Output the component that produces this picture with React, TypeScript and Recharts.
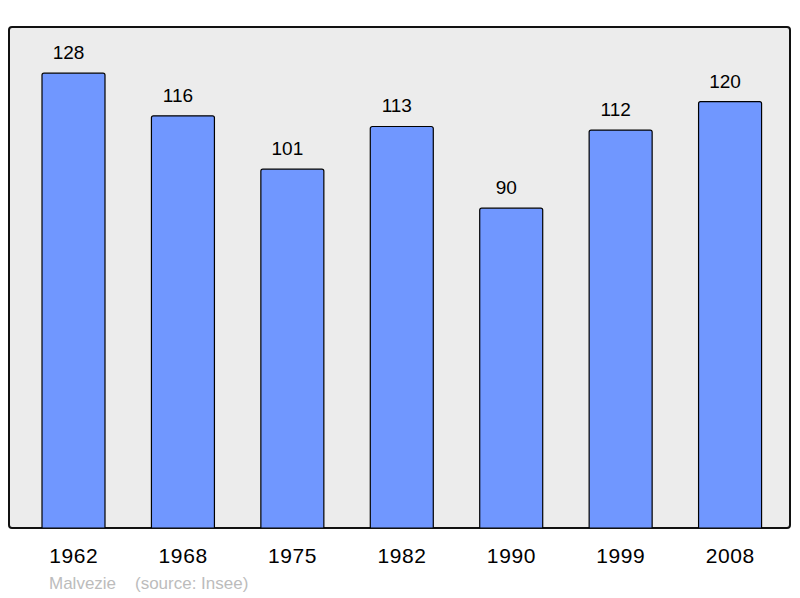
import { BarChart, Bar, XAxis, YAxis, LabelList } from "recharts";

const years = ["1962", "1968", "1975", "1982", "1990", "1999", "2008"];
const population = [128, 116, 101, 113, 90, 112, 120];

const data = years.map((year, i) => ({ year, pop: population[i] }));

const font = "'Liberation Sans', Arial, sans-serif";

export default function App() {
    return (
        <div
            style={{
                position: "absolute",
                left: 0,
                top: 0,
                width: 800,
                height: 598,
                background: "#fff",
                fontFamily: font,
            }}
        >
            {/* plot frame */}
            <div
                style={{
                    position: "absolute",
                    left: 8,
                    top: 26,
                    width: 779,
                    height: 499,
                    background: "#ececec",
                    border: "2px solid #111",
                    borderRadius: 4,
                }}
            />
            <div style={{ position: "absolute", left: 0, top: 0 }}>
                <BarChart
                    width={800}
                    height={598}
                    data={data}
                    margin={{ top: 27, right: 15, left: 19, bottom: 40 }}
                >
                    <XAxis
                        dataKey="year"
                        height={30}
                        axisLine={false}
                        tickLine={false}
                        tickMargin={14}
                        tick={{ fill: "#000", fontSize: 21, fontFamily: font, letterSpacing: 0.6 }}
                    />
                    <YAxis hide domain={[0, 141]} allowDataOverflow />
                    <Bar
                        dataKey="pop"
                        fill="#7097ff"
                        stroke="#000"
                        strokeWidth={1.2}
                        barSize={63}
                        radius={[2, 2, 0, 0]}
                        isAnimationActive={false}
                    >
                        <LabelList
                            dataKey="pop"
                            position="top"
                            offset={14}
                            dx={-5}
                            fill="#000"
                            fontSize={19}
                            fontFamily={font}
                        />
                    </Bar>
                </BarChart>
            </div>
            <div
                style={{
                    position: "absolute",
                    left: 49,
                    top: 574,
                    fontSize: 17,
                    color: "#bcbcbc",
                    whiteSpace: "pre",
                }}
            >
                {"Malvezie    (source: Insee)"}
            </div>
        </div>
    );
}
